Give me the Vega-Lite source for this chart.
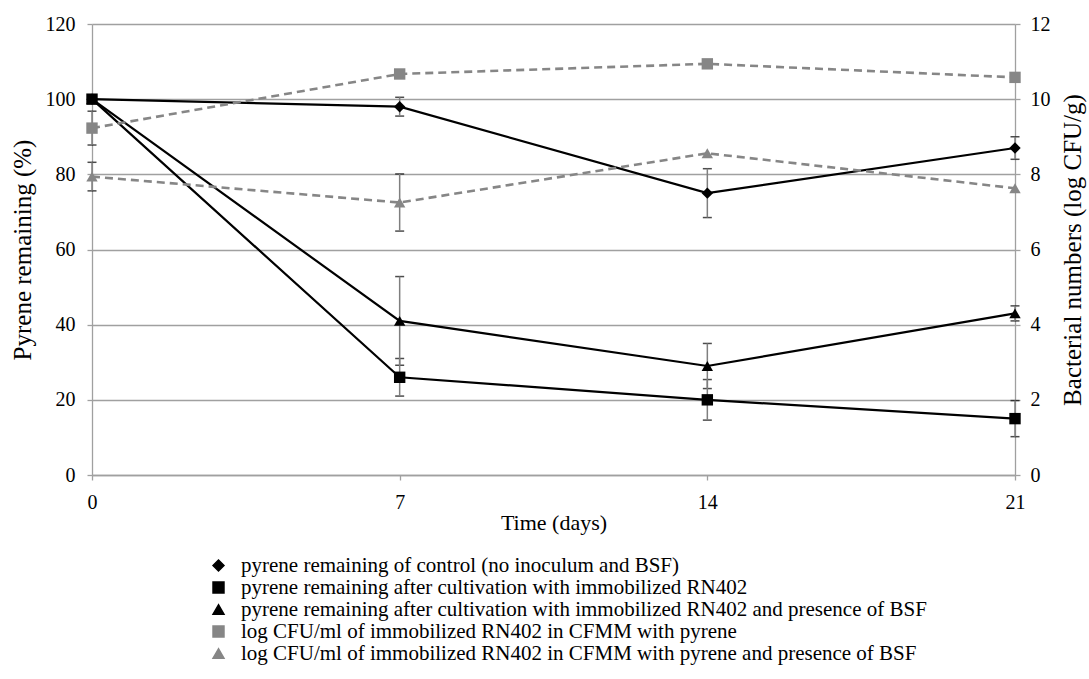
{
  "$schema": "https://vega.github.io/schema/vega-lite/v6.json",
  "autosize": {"type": "none"},
  "width": 923,
  "height": 451,
  "padding": {"left": 92, "top": 24, "right": 74, "bottom": 204},
  "background": "white",
  "config": {
    "view": {"stroke": null},
    "axis": {
      "labelFont": "Liberation Serif",
      "labelFontSize": 20,
      "labelColor": "#000000",
      "titleFont": "Liberation Serif",
      "titleFontSize": 22,
      "titleFontWeight": "normal",
      "titleColor": "#000000",
      "domainColor": "#a0a0a0",
      "tickColor": "#a0a0a0",
      "gridColor": "#a0a0a0",
      "gridOpacity": 1,
      "tickSize": 5,
      "domainWidth": 1.3,
      "tickWidth": 1.3,
      "gridWidth": 1.3,
      "labelFlush": false
    },
    "legend": {
      "labelFont": "Liberation Serif",
      "labelFontSize": 21,
      "labelColor": "#000000",
      "labelLimit": 1000
    }
  },
  "datasets": {
    "d": [
      {"series": "pyrene remaining of control (no inoculum and BSF)", "side": "L", "day": 0, "value": 100, "err": 0},
      {"series": "pyrene remaining of control (no inoculum and BSF)", "side": "L", "day": 7, "value": 98, "err": 2.5},
      {"series": "pyrene remaining of control (no inoculum and BSF)", "side": "L", "day": 14, "value": 75, "err": 6.5},
      {"series": "pyrene remaining of control (no inoculum and BSF)", "side": "L", "day": 21, "value": 87, "err": 3},
      {"series": "pyrene remaining after cultivation with immobilized RN402 and presence of BSF", "side": "L", "day": 0, "value": 100, "err": 0},
      {"series": "pyrene remaining after cultivation with immobilized RN402 and presence of BSF", "side": "L", "day": 7, "value": 41, "err": 11.8},
      {"series": "pyrene remaining after cultivation with immobilized RN402 and presence of BSF", "side": "L", "day": 14, "value": 29, "err": 6},
      {"series": "pyrene remaining after cultivation with immobilized RN402 and presence of BSF", "side": "L", "day": 21, "value": 43, "err": 2},
      {"series": "pyrene remaining after cultivation with immobilized RN402", "side": "L", "day": 0, "value": 100, "err": 0},
      {"series": "pyrene remaining after cultivation with immobilized RN402", "side": "L", "day": 7, "value": 26, "err": 5},
      {"series": "pyrene remaining after cultivation with immobilized RN402", "side": "L", "day": 14, "value": 20, "err": 5.4},
      {"series": "pyrene remaining after cultivation with immobilized RN402", "side": "L", "day": 21, "value": 15, "err": 4.8},
      {"series": "log CFU/ml of immobilized RN402 in CFMM with pyrene", "side": "R", "day": 0, "value": 9.23, "err": 0.45},
      {"series": "log CFU/ml of immobilized RN402 in CFMM with pyrene", "side": "R", "day": 7, "value": 10.67, "err": 0},
      {"series": "log CFU/ml of immobilized RN402 in CFMM with pyrene", "side": "R", "day": 14, "value": 10.94, "err": 0},
      {"series": "log CFU/ml of immobilized RN402 in CFMM with pyrene", "side": "R", "day": 21, "value": 10.58, "err": 0},
      {"series": "log CFU/ml of immobilized RN402 in CFMM with pyrene and presence of BSF", "side": "R", "day": 0, "value": 7.94, "err": 0.38},
      {"series": "log CFU/ml of immobilized RN402 in CFMM with pyrene and presence of BSF", "side": "R", "day": 7, "value": 7.25, "err": 0.76},
      {"series": "log CFU/ml of immobilized RN402 in CFMM with pyrene and presence of BSF", "side": "R", "day": 14, "value": 8.56, "err": 0},
      {"series": "log CFU/ml of immobilized RN402 in CFMM with pyrene and presence of BSF", "side": "R", "day": 21, "value": 7.63, "err": 0}
    ]
  },
  "data": {"name": "d"},
  "encoding": {
    "x": {
      "field": "day", "type": "quantitative",
      "scale": {"domain": [0, 21], "nice": false, "zero": false},
      "axis": {"values": [0, 7, 14, 21], "grid": false, "title": "Time (days)", "labelPadding": 12, "titlePadding": 0}
    }
  },
  "layer": [
    {
      "transform": [{"filter": "datum.side == 'L'"}],
      "encoding": {
        "y": {
          "field": "value", "type": "quantitative",
          "scale": {"domain": [0, 120], "nice": false},
          "axis": {"values": [0, 20, 40, 60, 80, 100, 120], "grid": true, "title": "Pyrene remaining (%)", "titleFontSize": 25, "labelPadding": 12, "titlePadding": 10}
        }
      },
      "layer": [
        {
          "transform": [{"filter": "datum.err > 0"}],
          "mark": {"type": "errorbar", "ticks": {"color": "#000000", "size": 9, "thickness": 1.5}, "rule": {"color": "#7f7f7f", "strokeWidth": 1.5}},
          "encoding": {"yError": {"field": "err"}}
        },
        {
          "mark": {"type": "line", "strokeWidth": 2.2},
          "encoding": {
            "color": {"field": "series", "type": "nominal"},
            "detail": {"field": "series"}
          }
        },
        {
          "mark": {"type": "point", "filled": true, "opacity": 1, "size": 130},
          "encoding": {
            "color": {
              "field": "series", "type": "nominal",
              "scale": {
                "domain": [
                  "pyrene remaining of control (no inoculum and BSF)",
                  "pyrene remaining after cultivation with immobilized RN402",
                  "pyrene remaining after cultivation with immobilized RN402 and presence of BSF",
                  "log CFU/ml of immobilized RN402 in CFMM with pyrene",
                  "log CFU/ml of immobilized RN402 in CFMM with pyrene and presence of BSF"
                ],
                "range": ["#000000", "#000000", "#000000", "#868686", "#868686"]
              },
              "legend": {
                "title": null,
                "orient": "none",
                "direction": "vertical",
                "legendX": 116,
                "legendY": 531,
                "symbolSize": 120,
                "labelOffset": 12,
                "rowPadding": 0,
                "symbolOpacity": 1
              }
            },
            "shape": {
              "field": "series", "type": "nominal",
              "scale": {
                "domain": [
                  "pyrene remaining of control (no inoculum and BSF)",
                  "pyrene remaining after cultivation with immobilized RN402",
                  "pyrene remaining after cultivation with immobilized RN402 and presence of BSF",
                  "log CFU/ml of immobilized RN402 in CFMM with pyrene",
                  "log CFU/ml of immobilized RN402 in CFMM with pyrene and presence of BSF"
                ],
                "range": ["diamond", "square", "triangle-up", "square", "triangle-up"]
              }
            }
          }
        }
      ]
    },
    {
      "transform": [{"filter": "datum.side == 'R'"}],
      "encoding": {
        "y": {
          "field": "value", "type": "quantitative",
          "scale": {"domain": [0, 12], "nice": false},
          "axis": {"orient": "right", "values": [0, 2, 4, 6, 8, 10, 12], "grid": false, "title": "Bacterial numbers (log CFU/g)", "titleFontSize": 25, "titleAngle": 270, "titleBaseline": "top", "labelPadding": 10, "titlePadding": 10}
        }
      },
      "layer": [
        {
          "transform": [{"filter": "datum.err > 0"}],
          "mark": {"type": "errorbar", "ticks": {"color": "#000000", "size": 9, "thickness": 1.5}, "rule": {"color": "#7f7f7f", "strokeWidth": 1.5}},
          "encoding": {"yError": {"field": "err"}}
        },
        {
          "mark": {"type": "line", "strokeWidth": 2.6, "strokeDash": [8, 5]},
          "encoding": {
            "color": {"field": "series", "type": "nominal"},
            "detail": {"field": "series"}
          }
        },
        {
          "mark": {"type": "point", "filled": true, "opacity": 1, "size": 130},
          "encoding": {
            "color": {"field": "series", "type": "nominal"},
            "shape": {"field": "series", "type": "nominal"}
          }
        }
      ]
    }
  ],
  "resolve": {"scale": {"y": "independent"}}
}
